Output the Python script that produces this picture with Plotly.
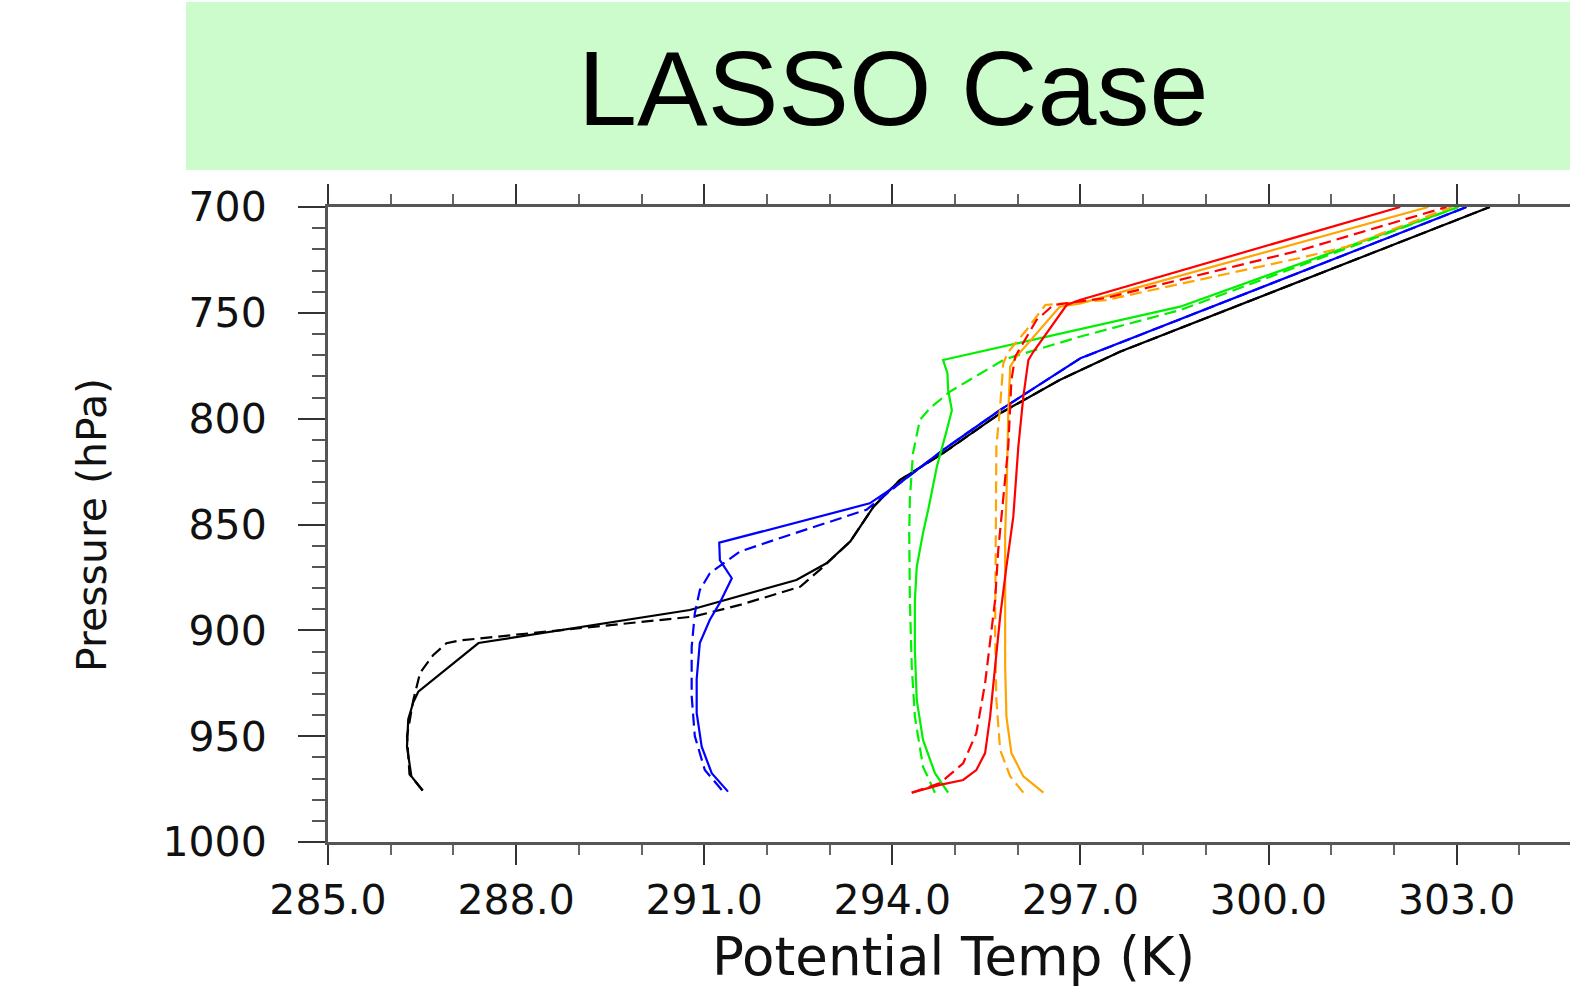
import plotly.graph_objects as go

# ---------------- data (potential temperature K, pressure hPa) ----------------
black_solid_T = [286.51, 286.33, 286.26, 286.28, 286.36, 286.44, 287.40, 290.77, 292.47, 292.95, 293.33, 293.70, 294.12, 294.81, 295.72, 296.67, 297.63, 303.53]
black_solid_p = [975.7, 969.0, 955.0, 942.0, 934.0, 929.0, 906.0, 890.4, 876.2, 868.3, 858.0, 841.6, 829.0, 816.3, 797.5, 781.7, 768.4, 700.0]

black_dash_T = [286.51, 286.30, 286.26, 286.36, 286.47, 286.68, 286.89, 287.10, 290.83, 291.57, 292.53, 292.90, 293.33, 293.70, 294.12, 294.81, 295.72, 296.67, 297.63, 303.53]
black_dash_p = [975.7, 968.0, 950.0, 933.0, 920.0, 911.6, 906.1, 904.8, 893.5, 888.0, 879.4, 870.0, 858.0, 841.6, 829.0, 816.3, 797.5, 781.7, 768.4, 700.0]

blue_solid_T = [291.38, 291.12, 290.96, 290.88, 290.88, 290.93, 291.09, 291.25, 291.44, 291.25, 291.24, 293.64, 294.12, 294.81, 295.72, 296.67, 297.00, 303.16]
blue_solid_p = [976.2, 967.5, 955.0, 939.0, 923.0, 906.0, 895.0, 887.0, 875.4, 866.8, 858.6, 840.0, 830.5, 814.8, 795.9, 777.8, 771.5, 700.0]

blue_dash_T = [291.28, 291.01, 290.85, 290.80, 290.80, 290.85, 290.93, 291.09, 291.28, 291.57, 292.10, 293.59, 294.12, 294.81, 295.72, 296.67, 297.00, 303.16]
blue_dash_p = [975.4, 966.0, 950.0, 931.0, 908.0, 892.0, 881.0, 873.0, 869.0, 862.8, 857.5, 843.0, 830.5, 814.8, 795.9, 777.8, 771.5, 700.0]

green_solid_T = [294.89, 294.68, 294.49, 294.39, 294.36, 294.36, 294.39, 294.49, 294.58, 294.71, 294.87, 294.95, 294.89, 294.88, 294.81, 298.59, 303.03]
green_solid_p = [976.7, 967.5, 951.8, 933.0, 909.0, 886.0, 870.0, 854.0, 842.0, 822.7, 805.3, 796.0, 786.4, 778.6, 772.3, 747.1, 700.0]

green_dash_T = [294.68, 294.49, 294.36, 294.31, 294.28, 294.27, 294.28, 294.33, 294.44, 294.60, 294.92, 295.50, 295.77, 295.93, 296.99, 298.59, 303.03]
green_dash_p = [976.7, 964.4, 940.8, 917.0, 886.0, 854.0, 838.0, 816.3, 800.6, 795.1, 787.2, 777.0, 772.3, 770.7, 761.3, 748.7, 700.0]

red_solid_T = [294.31, 294.76, 295.13, 295.34, 295.48, 295.56, 295.64, 295.72, 295.82, 295.93, 296.01, 296.09, 296.17, 296.25, 296.78, 296.99, 302.10]
red_solid_p = [976.7, 973.0, 970.7, 966.0, 958.0, 940.8, 917.0, 893.5, 870.0, 846.3, 813.2, 789.6, 772.3, 768.4, 746.3, 743.9, 700.0]

red_dash_T = [294.31, 294.76, 295.13, 295.34, 295.48, 295.58, 295.64, 295.69, 295.77, 295.85, 295.90, 295.96, 296.30, 296.57, 297.40, 300.50, 302.84]
red_dash_p = [976.7, 972.2, 962.8, 948.6, 925.0, 901.4, 885.6, 862.0, 838.4, 813.0, 781.7, 770.7, 753.4, 746.3, 743.0, 720.5, 700.0]

orange_solid_T = [296.41, 296.09, 295.90, 295.82, 295.80, 295.80, 295.80, 295.82, 295.85, 295.88, 295.98, 296.67, 297.00, 302.55]
orange_solid_p = [976.7, 969.0, 958.0, 940.8, 917.0, 885.6, 854.0, 838.4, 797.5, 775.4, 770.7, 747.1, 745.5, 700.0]

orange_dash_T = [296.09, 295.88, 295.72, 295.66, 295.64, 295.65, 295.66, 295.66, 295.72, 295.77, 295.85, 296.14, 296.44, 297.40, 300.50, 301.24, 302.93]
orange_dash_p = [976.7, 969.0, 956.5, 932.9, 901.4, 869.9, 838.4, 813.2, 794.3, 773.8, 768.4, 758.1, 746.3, 744.0, 724.1, 718.8, 700.0]

x_ticks = [285, 288, 291, 294, 297, 300, 303]
x_ticklabels = ["285.0", "288.0", "291.0", "294.0", "297.0", "300.0", "303.0"]
y_ticks = [700, 750, 800, 850, 900, 950, 1000]
y_ticklabels = ["700", "750", "800", "850", "900", "950", "1000"]

DASH = "12px,6px"
series = [
    ("black solid", black_solid_T, black_solid_p, "#000000", "solid"),
    ("black dashed", black_dash_T, black_dash_p, "#000000", DASH),
    ("blue solid", blue_solid_T, blue_solid_p, "#0000ff", "solid"),
    ("blue dashed", blue_dash_T, blue_dash_p, "#0000ff", DASH),
    ("green solid", green_solid_T, green_solid_p, "#00f000", "solid"),
    ("green dashed", green_dash_T, green_dash_p, "#00f000", DASH),
    ("orange solid", orange_solid_T, orange_solid_p, "#ffa500", "solid"),
    ("orange dashed", orange_dash_T, orange_dash_p, "#ffa500", DASH),
    ("red solid", red_solid_T, red_solid_p, "#ff0000", "solid"),
    ("red dashed", red_dash_T, red_dash_p, "#ff0000", DASH),
]

fig = go.Figure()
for name, T, p, color, dash in series:
    fig.add_trace(go.Scatter(x=T, y=p, mode="lines", name=name,
                             line=dict(color=color, width=2.2, dash=dash),
                             showlegend=False, hoverinfo="skip"))

W, H = 1570, 995
L, R, T_, B = 328, 0, 207, 153
pw, ph = W - L - R, H - T_ - B

def px(X):
    return (X - L) / pw

def py(Y):
    return (H - B - Y) / ph

axis_font = dict(family="DejaVu Sans", size=41, color="#111111")

fig.update_layout(
    width=W, height=H, autosize=False,
    margin=dict(l=L, r=R, t=T_, b=B, pad=0),
    paper_bgcolor="white", plot_bgcolor="white",
    xaxis=dict(
        range=[285, 285 + pw / 62.7], showgrid=False, zeroline=False,
        showline=True, linecolor="#555555", linewidth=3, mirror="ticks",
        ticks="outside", ticklen=20, tickwidth=2, tickcolor="#333333",
        tickvals=x_ticks, ticktext=x_ticklabels, tickfont=axis_font,
        ticklabelstandoff=0,
        minor=dict(ticks="outside", dtick=1, tick0=285, ticklen=10, tickwidth=2, tickcolor="#666666", showgrid=False),
    ),
    yaxis=dict(
        range=[1000, 700], showgrid=False, zeroline=False,
        showline=True, linecolor="#555555", linewidth=3, mirror=False,
        ticks="outside", ticklen=27, tickwidth=2, tickcolor="#333333",
        tickvals=y_ticks, ticktext=y_ticklabels, tickfont=axis_font,
        ticklabelstandoff=23,
        minor=dict(ticks="outside", dtick=10, tick0=700, ticklen=13, tickwidth=2, tickcolor="#555555", showgrid=False),
    ),
    shapes=[dict(type="rect", xref="paper", yref="paper",
                 x0=px(186), x1=px(1575), y0=py(170), y1=py(2),
                 fillcolor="#ccfbcc", line=dict(width=0), layer="below")],
    annotations=[
        dict(text="LASSO Case", xref="paper", yref="paper", x=px(893), y=py(88),
             xanchor="center", yanchor="middle", showarrow=False,
             font=dict(family="Liberation Sans, Arial", size=106, color="#000000")),
        dict(text="Potential Temp (K)", xref="paper", yref="paper", x=px(953), y=py(956),
             xanchor="center", yanchor="middle", showarrow=False,
             font=dict(family="DejaVu Sans", size=53, color="#111111")),
        dict(text="Pressure (hPa)", xref="paper", yref="paper", x=px(92), y=py(525),
             xanchor="center", yanchor="middle", showarrow=False, textangle=-90,
             font=dict(family="DejaVu Sans", size=41, color="#111111")),
    ],
)

fig.write_html("out.html", config={"displayModeBar": False},
               post_script="document.body.style.margin='0';document.body.style.overflow='hidden';")
